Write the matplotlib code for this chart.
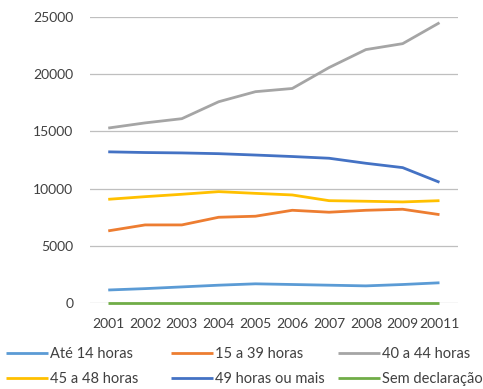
import matplotlib.pyplot as plt

plt.rcParams['font.family'] = ['Lato', 'DejaVu Sans']

anos = ["2001", "2002", "2003", "2004", "2005", "2006", "2007", "2008", "2009", "20011"]

ate_14 = [1140, 1260, 1410, 1560, 1680, 1620, 1560, 1500, 1620, 1770]
h15_39 = [6310, 6830, 6830, 7500, 7590, 8110, 7940, 8110, 8200, 7730]
h40_44 = [15300, 15750, 16120, 17600, 18480, 18760, 20590, 22160, 22680, 24510]
h45_48 = [9070, 9300, 9510, 9740, 9590, 9450, 8950, 8900, 8840, 8950]
h49_mais = [13220, 13160, 13125, 13060, 12940, 12810, 12660, 12220, 11840, 10560]
sem_decl = [0, 0, 0, 0, 0, 0, 0, 0, 0, 0]

series = [
    ("Até 14 horas", ate_14, "#5B9BD5"),
    ("15 a 39 horas", h15_39, "#ED7D31"),
    ("40 a 44 horas", h40_44, "#A5A5A5"),
    ("45 a 48 horas", h45_48, "#FFC000"),
    ("49 horas ou mais", h49_mais, "#4472C4"),
    ("Sem declaração", sem_decl, "#70AD47"),
]

fig = plt.figure(figsize=(4.83, 3.89), dpi=100)
ax = fig.add_axes([0.186, 0.221, 0.762, 0.735])

x = range(len(anos))
for label, vals, color in series:
    ax.plot(x, vals, color=color, lw=2.0, label=label,
            solid_capstyle='butt', clip_on=False)

ax.set_xlim(-0.5, len(anos) - 0.5)
ax.set_ylim(0, 25000)
ax.set_yticks(range(0, 25001, 5000))
ax.set_xticks(list(x))
ax.set_xticklabels(anos)
ax.grid(axis='y', color='#bfbfbf', lw=0.9)
ax.set_axisbelow(True)
for s in ax.spines.values():
    s.set_visible(False)
ax.tick_params(axis='both', length=0, labelsize=10, colors='#404040')
ax.tick_params(axis='x', pad=11)
ax.tick_params(axis='y', pad=12)

# legend in three columns, two rows each
handles, labels = ax.get_legend_handles_labels()
col_x = [0.012, 0.354, 0.699]
for i, cx in enumerate(col_x):
    leg = fig.legend([handles[i], handles[i + 3]], [labels[i], labels[i + 3]],
                     loc='upper left', bbox_to_anchor=(cx, 0.108),
                     frameon=False, fontsize=10.5, handlelength=2.9,
                     handletextpad=0.15, labelspacing=0.75,
                     borderaxespad=0, borderpad=0)
    for t in leg.get_texts():
        t.set_color('#404040')

fig.savefig("out.png", dpi=100)
